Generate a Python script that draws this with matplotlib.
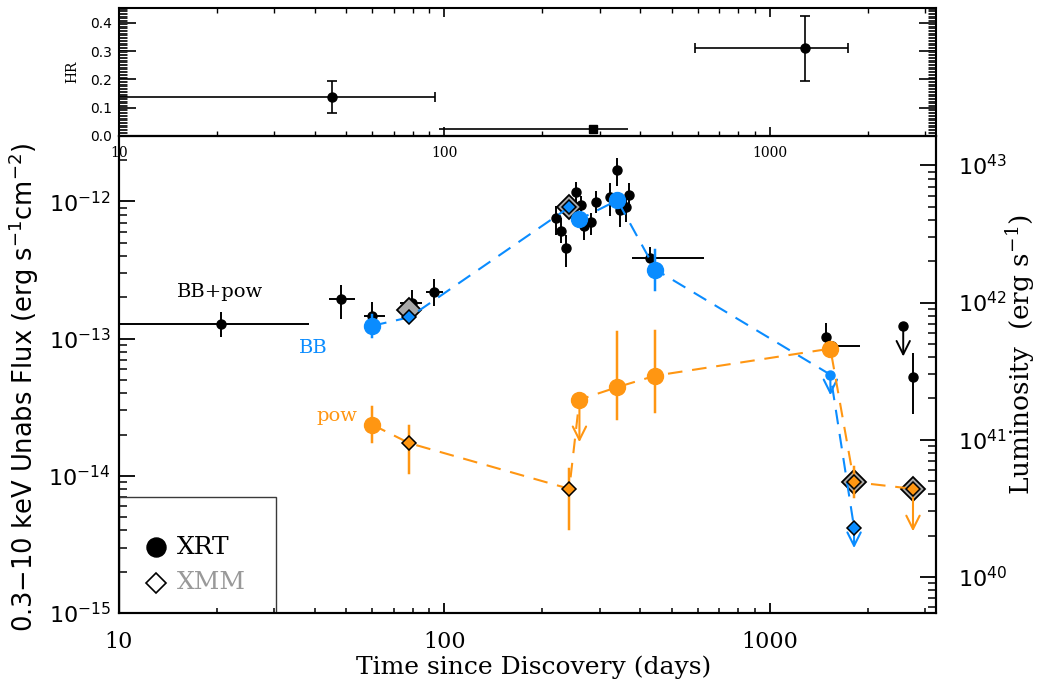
import matplotlib
matplotlib.use("Agg")
import matplotlib.pyplot as plt
import numpy as np
from matplotlib.patches import Rectangle
from matplotlib.ticker import (LogLocator, MultipleLocator, FuncFormatter,
                               NullFormatter, FixedLocator)

plt.rcParams["font.family"] = ["DejaVu Serif"]
plt.rcParams["mathtext.fontset"] = "dejavusans"

BLUE = "#0a8cff"
ORANGE = "#ff9612"
GREY = "#a8a8a8"

# ---------------- hardness ratio ----------------
hr_t = [45.1, 286.0, 1282.0]
hr_t_lo = [5.0, 96.6, 589.0]
hr_t_hi = [93.8, 366.0, 1733.0]
hr_val = [0.137, 0.024, 0.310]
hr_lo = [0.080, 0.024, 0.195]
hr_hi = [0.195, 0.024, 0.425]
hr_square = [False, True, False]

# ---------------- XRT total (BB+pow) fluxes ----------------
xrt_t = [20.6, 48.0, 60.0, 79.6, 92.9, 220, 229, 237, 254.5, 263.5, 268.5,
         283, 293, 322, 338, 346, 361, 369, 428, 1493, 1549, 2754]
xrt_t_lo = [5.0, 44.3, 56.8, 72.9, 87.8, 220, 229, 237, 254.5, 263.5, 268.5,
            283, 293, 322, 338, 346, 361, 369, 376, 1493, 1455, 2754]
xrt_t_hi = [38.4, 53.3, 65.6, 85.1, 99.0, 220, 229, 237, 254.5, 263.5, 268.5,
            283, 293, 322, 338, 346, 361, 369, 628, 1493, 1888, 2754]
xrt_f = np.array([1.28, 1.95, 1.46, 1.82, 2.19, 7.6, 6.07, 4.59, 11.7, 9.35, 6.6,
                  7.06, 9.95, 10.7, 16.9, 8.59, 9.08, 11.1, 3.84, 1.02, 0.879,
                  0.525]) * 1e-13
xrt_f_lo = np.array([1.03, 1.40, 1.15, 1.45, 1.72, 5.74, 5.00, 3.33, 9.5, 8.0,
                     5.2, 5.74, 8.26, 7.8, 12.9, 6.5, 7.06, 9.0, 3.57, 0.85,
                     0.80, 0.28]) * 1e-13
xrt_f_hi = np.array([1.57, 2.48, 1.85, 2.28, 2.70, 9.2, 7.6, 5.74, 13.9, 10.9,
                     8.0, 8.26, 11.9, 13.7, 20.8, 11.0, 11.5, 13.7, 4.65, 1.29,
                     0.96, 0.78]) * 1e-13
xrt_ul_t = [2570.0]
xrt_ul_f = [1.23e-13]

# ---------------- XMM total (BB+pow) fluxes ----------------
xmm_t = [78.0, 242.0, 1815.0, 2754.0]
xmm_f = [1.61e-13, 9.1e-13, 9.0e-15, 8.04e-15]

# ---------------- blackbody component ----------------
bb_t = [60.0, 78.0, 242.0, 260.0, 340.0, 445.0, 1535.0, 1815.0]
bb_f = [1.24e-13, 1.43e-13, 9.08e-13, 7.4e-13, 1.02e-12, 3.19e-13, 5.46e-14,
        4.2e-15]
bb_lo = [1.02e-13, 1.43e-13, 9.08e-13, 7.4e-13, 1.02e-12, 2.28e-13, 5.46e-14,
         4.2e-15]
bb_hi = [1.48e-13, 1.43e-13, 9.08e-13, 7.4e-13, 1.02e-12, 4.39e-13, 5.46e-14,
         4.2e-15]
bb_inst = ["XRT", "XMM", "XMM", "XRT", "XRT", "XRT", "XRT", "XMM"]
bb_ul = [False, False, False, False, False, False, True, True]

# ---------------- power-law component ----------------
pl_t = [60.0, 78.0, 242.0, 260.0, 340.0, 445.0, 1535.0, 1815.0, 2754.0]
pl_f = [2.36e-14, 1.73e-14, 8.04e-15, 3.59e-14, 4.43e-14, 5.37e-14, 8.45e-14,
        9.0e-15, 8.04e-15]
pl_lo = [1.75e-14, 1.04e-14, 4.1e-15, 3.59e-14, 2.6e-14, 2.92e-14, 7.9e-14,
         7.0e-15, 8.04e-15]
pl_hi = [3.18e-14, 2.32e-14, 1.12e-14, 3.59e-14, 1.11e-13, 1.13e-13, 9.0e-14,
         1.16e-14, 8.04e-15]
pl_inst = ["XRT", "XMM", "XMM", "XRT", "XRT", "XRT", "XRT", "XMM", "XMM"]
pl_ul = [False, False, False, True, False, False, False, False, True]

# tick values
time_ticks = [10, 100, 1000]
hr_ticks = [0.0, 0.1, 0.2, 0.3, 0.4]
flux_ticks = [1e-15, 1e-14, 1e-13, 1e-12]
lum_ticks = [1e40, 1e41, 1e42, 1e43]

# flux -> luminosity, L = 4 pi d^2 F
MPC_CM = 3.0857e24
DIST_MPC = 213.6
LUM_FACTOR = 4 * np.pi * (DIST_MPC * MPC_CM) ** 2

XLIM = (10, 3240)
YLIM = (1e-15, 3e-12)

fig = plt.figure(figsize=(10.38, 6.85), dpi=100)
ax_hr = fig.add_axes([0.1146, 0.8015, 0.7871, 0.1868])
ax = fig.add_axes([0.1146, 0.1051, 0.7871, 0.6964])
ax.patch.set_visible(False)

FRAME_LW = 1.5
ERR_LW = 1.4


def upper_limit(axis, t, f, dex, color, lw=1.4, z=5):
    axis.annotate("", xy=(t, f / 10 ** dex), xytext=(t, f),
                  arrowprops=dict(arrowstyle="->,head_length=0.6,head_width=0.3",
                                  color=color, lw=lw, shrinkA=0, shrinkB=0,
                                  mutation_scale=16),
                  zorder=z)


def log_minor(lo, hi):
    out = []
    for e in range(int(np.floor(np.log10(lo))), int(np.ceil(np.log10(hi))) + 1):
        for m in range(2, 10):
            v = m * 10.0 ** e
            if lo <= v <= hi:
                out.append(v)
    return out


# ================= hardness-ratio panel =================
for t, tl, th, v, lo, hi, sq in zip(hr_t, hr_t_lo, hr_t_hi, hr_val, hr_lo,
                                     hr_hi, hr_square):
    ax_hr.errorbar([t], [v], xerr=[[t - tl], [th - t]],
                   yerr=None if sq else [[v - lo], [hi - v]],
                   fmt="s" if sq else "o", ms=6 if sq else 6.5, color="k",
                   elinewidth=1.2, capsize=0 if sq else 3.5, capthick=1.2)

ax_hr.set_xscale("log")
ax_hr.set_xlim(*XLIM)
ax_hr.set_ylim(0, 0.452)
ax_hr.yaxis.set_major_locator(FixedLocator(hr_ticks))
ax_hr.yaxis.set_minor_locator(MultipleLocator(0.005))
ax_hr.yaxis.set_major_formatter(FuncFormatter(lambda v, p: "%.1f" % v))
ax_hr.yaxis.set_minor_formatter(NullFormatter())
ax_hr.xaxis.set_major_locator(FixedLocator(time_ticks))
ax_hr.xaxis.set_minor_locator(FixedLocator(log_minor(*XLIM)))
ax_hr.xaxis.set_major_formatter(FuncFormatter(lambda v, p: "%d" % v))
ax_hr.xaxis.set_minor_formatter(NullFormatter())
ax_hr.tick_params(axis="y", which="both", direction="in", left=True,
                  right=True, labelsize=10, labelfontfamily="DejaVu Sans",
                  pad=5)
ax_hr.tick_params(axis="y", which="major", length=12, width=1.2)
ax_hr.tick_params(axis="y", which="minor", length=5.5, width=0.6)
ax_hr.tick_params(axis="x", which="both", direction="in", top=True,
                  bottom=True, labelsize=10, pad=7)
ax_hr.tick_params(axis="x", which="major", length=6.5, width=1.2)
ax_hr.tick_params(axis="x", which="minor", length=3.6, width=1.0)
ax_hr.set_ylabel("HR", fontsize=10, va="center")
ax_hr.yaxis.set_label_coords(-0.057, 0.5)
for s in ax_hr.spines.values():
    s.set_linewidth(FRAME_LW)

# ================= flux panel =================
# XRT total flux
ax.errorbar(xrt_t, xrt_f,
            xerr=[np.subtract(xrt_t, xrt_t_lo), np.subtract(xrt_t_hi, xrt_t)],
            yerr=[xrt_f - xrt_f_lo, xrt_f_hi - xrt_f],
            fmt="o", ms=6.5, color="k", elinewidth=ERR_LW, capsize=0, zorder=3)
ax.plot(xrt_ul_t, xrt_ul_f, "o", ms=6.5, color="k", zorder=3)
for t, f in zip(xrt_ul_t, xrt_ul_f):
    upper_limit(ax, t, f, 0.22, "k", z=3)

# XMM total flux
ax.plot(xmm_t, xmm_f, "D", ms=12.2, mfc=GREY, mec="k", mew=1.3, zorder=4,
        linestyle="none")


def component(t_arr, f_arr, lo_arr, hi_arr, inst, ul, color, ul_dex, small_ul):
    ax.plot(t_arr, f_arr, color=color, lw=1.5, ls=(0, (7, 4.7)), zorder=5)
    for t, f, lo, hi, ins, u in zip(t_arr, f_arr, lo_arr, hi_arr, inst, ul):
        if hi > lo:
            ax.plot([t, t], [lo, hi], color=color, lw=ERR_LW + 0.4, zorder=5)
        if u:
            upper_limit(ax, t, f, ul_dex, color, lw=1.5, z=5)
        if ins == "XMM":
            ax.plot([t], [f], "D", ms=7.6, mfc=color, mec="k", mew=1.1,
                    zorder=6)
        else:
            ms = 6.5 if (u and small_ul) else 11.5
            ax.plot([t], [f], "o", ms=ms, color=color, zorder=6)


component(bb_t, bb_f, bb_lo, bb_hi, bb_inst, bb_ul, BLUE, 0.15, True)
component(pl_t, pl_f, pl_lo, pl_hi, pl_inst, pl_ul, ORANGE, 0.31, False)

ax.text(20.4, 2.2e-13, "BB+pow", fontsize=14, ha="center", va="center")
ax.text(39.5, 8.6e-14, "BB", fontsize=14, color=BLUE, ha="center",
        va="center")
ax.text(46.8, 2.75e-14, "pow", fontsize=14, color=ORANGE, ha="center",
        va="center")

# legend box
ax.add_patch(Rectangle((0, 0), 0.192, 0.243, transform=ax.transAxes,
                       fill=False, ec="#3a3a3a", lw=1.0, zorder=7))
ax.plot([0.0453], [0.138], "o", ms=13.7, color="k", transform=ax.transAxes,
        zorder=8)
ax.plot([0.0453], [0.063], "D", ms=10.5, mfc="white", mec="k", mew=1.2,
        transform=ax.transAxes, zorder=8)
ax.text(0.071, 0.138, "XRT", fontsize=18, va="center",
        transform=ax.transAxes)
ax.text(0.071, 0.063, "XMM", fontsize=18, va="center", color="#999999",
        transform=ax.transAxes)

ax.set_xscale("log")
ax.set_yscale("log")
ax.set_xlim(*XLIM)
ax.set_ylim(*YLIM)
ax.xaxis.set_major_locator(FixedLocator(time_ticks))
ax.xaxis.set_minor_locator(FixedLocator(log_minor(*XLIM)))
ax.xaxis.set_major_formatter(FuncFormatter(lambda v, p: "%d" % v))
ax.xaxis.set_minor_formatter(NullFormatter())
ax.yaxis.set_major_locator(FixedLocator(flux_ticks))
ax.yaxis.set_minor_locator(FixedLocator(log_minor(*YLIM)))
ax.yaxis.set_major_formatter(
    FuncFormatter(lambda v, p: r"$10^{%d}$" % round(np.log10(v))))
ax.yaxis.set_minor_formatter(NullFormatter())
ax.tick_params(axis="x", which="both", direction="in", top=False,
               labelsize=16, pad=13)
ax.tick_params(axis="x", which="major", length=7, width=1.3)
ax.tick_params(axis="x", which="minor", length=3.6, width=1.1)
ax.tick_params(axis="y", which="both", direction="in", right=False,
               labelsize=16, labelfontfamily="DejaVu Sans", pad=6)
ax.tick_params(axis="y", which="major", length=11.5, width=1.3)
ax.tick_params(axis="y", which="minor", length=5.8, width=1.1)
for s in ax.spines.values():
    s.set_linewidth(FRAME_LW)

ax.set_xlabel("Time since Discovery (days)", fontsize=18)
ax.xaxis.set_label_coords(0.507, -0.088)
ax.set_ylabel("0.3\u221210 keV Unabs Flux (erg s$^{-1}$cm$^{-2}$)",
              fontsize=18.5, family="DejaVu Sans", va="center")
ax.yaxis.set_label_coords(-0.117, 0.472)

# luminosity axis
ax2 = ax.twinx()
ax2.set_yscale("log")
lum_lim = (YLIM[0] * LUM_FACTOR, YLIM[1] * LUM_FACTOR)
ax2.set_ylim(*lum_lim)
ax2.yaxis.set_major_locator(FixedLocator(lum_ticks))
ax2.yaxis.set_minor_locator(FixedLocator(log_minor(*lum_lim)))
ax2.yaxis.set_major_formatter(
    FuncFormatter(lambda v, p: r"$10^{%d}$" % round(np.log10(v))))
ax2.yaxis.set_minor_formatter(NullFormatter())
ax2.tick_params(axis="y", which="both", direction="in", labelsize=16, pad=16)
ax2.tick_params(axis="y", which="major", length=11.5, width=1.3)
ax2.tick_params(axis="y", which="minor", length=5.8, width=1.1)
ax2.set_ylabel("Luminosity  (erg s$^{-1}$)", fontsize=19, va="center",
               math_fontfamily="dejavuserif")
ax2.yaxis.set_label_coords(1.103, 0.541)
for s in ax2.spines.values():
    s.set_linewidth(FRAME_LW)

fig.savefig("out.png", dpi=100)
